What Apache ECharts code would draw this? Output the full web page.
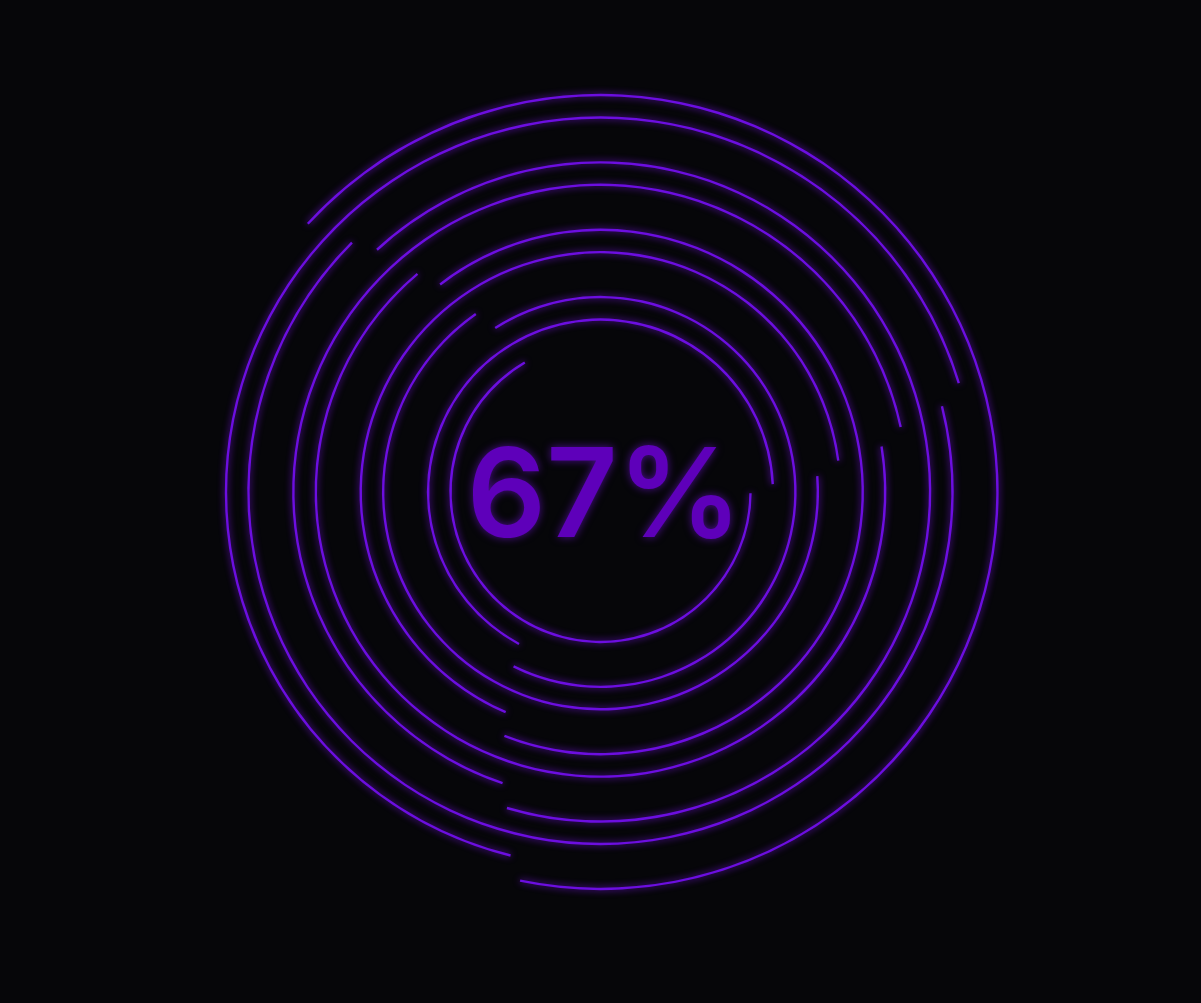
<!DOCTYPE html>
<html>
<head>
<meta charset="utf-8">
<script src="https://cdn.jsdelivr.net/npm/echarts@6/dist/echarts.min.js"></script>
<style>
html,body{margin:0;padding:0;background:#060609;}
#main{width:1201px;height:1003px;}
</style>
</head>
<body>
<div id="main"></div>
<script>
// Data
const percent = 67;
// angle (degrees, counter-clockwise from east) where each ring's arc begins, innermost ring first
const ringStartAngles = [-0.5, 241.8, 122.7, 4.2, 246.7, 127.7, 9.2, 251.4, 132.7, 14.1, 256.1, 137.5];
const labelText = '{value}%';

// Layout / style
const innerRadius = 150;
const ringStep = 22.45;
const lineColor = '#6c0ee0';
const glowColor = 'rgba(120, 20, 230, 0.95)';
const textColor = '#5e00ba';

const series = ringStartAngles.map(function (start, i) {
  const r = innerRadius + i * ringStep;
  return {
    type: 'gauge',
    center: ['50%', '49.05%'],
    radius: r + 1.2,
    startAngle: start,
    endAngle: start - 357,
    clockwise: true,
    min: 0,
    max: 100,
    progress: {
      show: true,
      width: 2.4,
      itemStyle: { color: lineColor, shadowBlur: 7, shadowColor: glowColor }
    },
    axisLine: { show: false },
    axisTick: { show: false },
    splitLine: { show: false },
    axisLabel: { show: false },
    pointer: { show: false },
    anchor: { show: false },
    title: { show: false },
    detail: i === 0 ? {
      show: true,
      offsetCenter: [4, 8],
      formatter: labelText,
      color: textColor,
      fontFamily: 'Inter',
      fontWeight: 600,
      fontSize: 124,
      textShadowBlur: 8,
      textShadowColor: 'rgba(120, 20, 230, 0.6)'
    } : { show: false },
    silent: true,
    animation: false,
    data: [{ value: percent }]
  };
});

const chart = echarts.init(document.getElementById('main'), null, { renderer: 'canvas' });
chart.setOption({
  backgroundColor: '#060609',
  animation: false,
  series: series
});
</script>
</body>
</html>
